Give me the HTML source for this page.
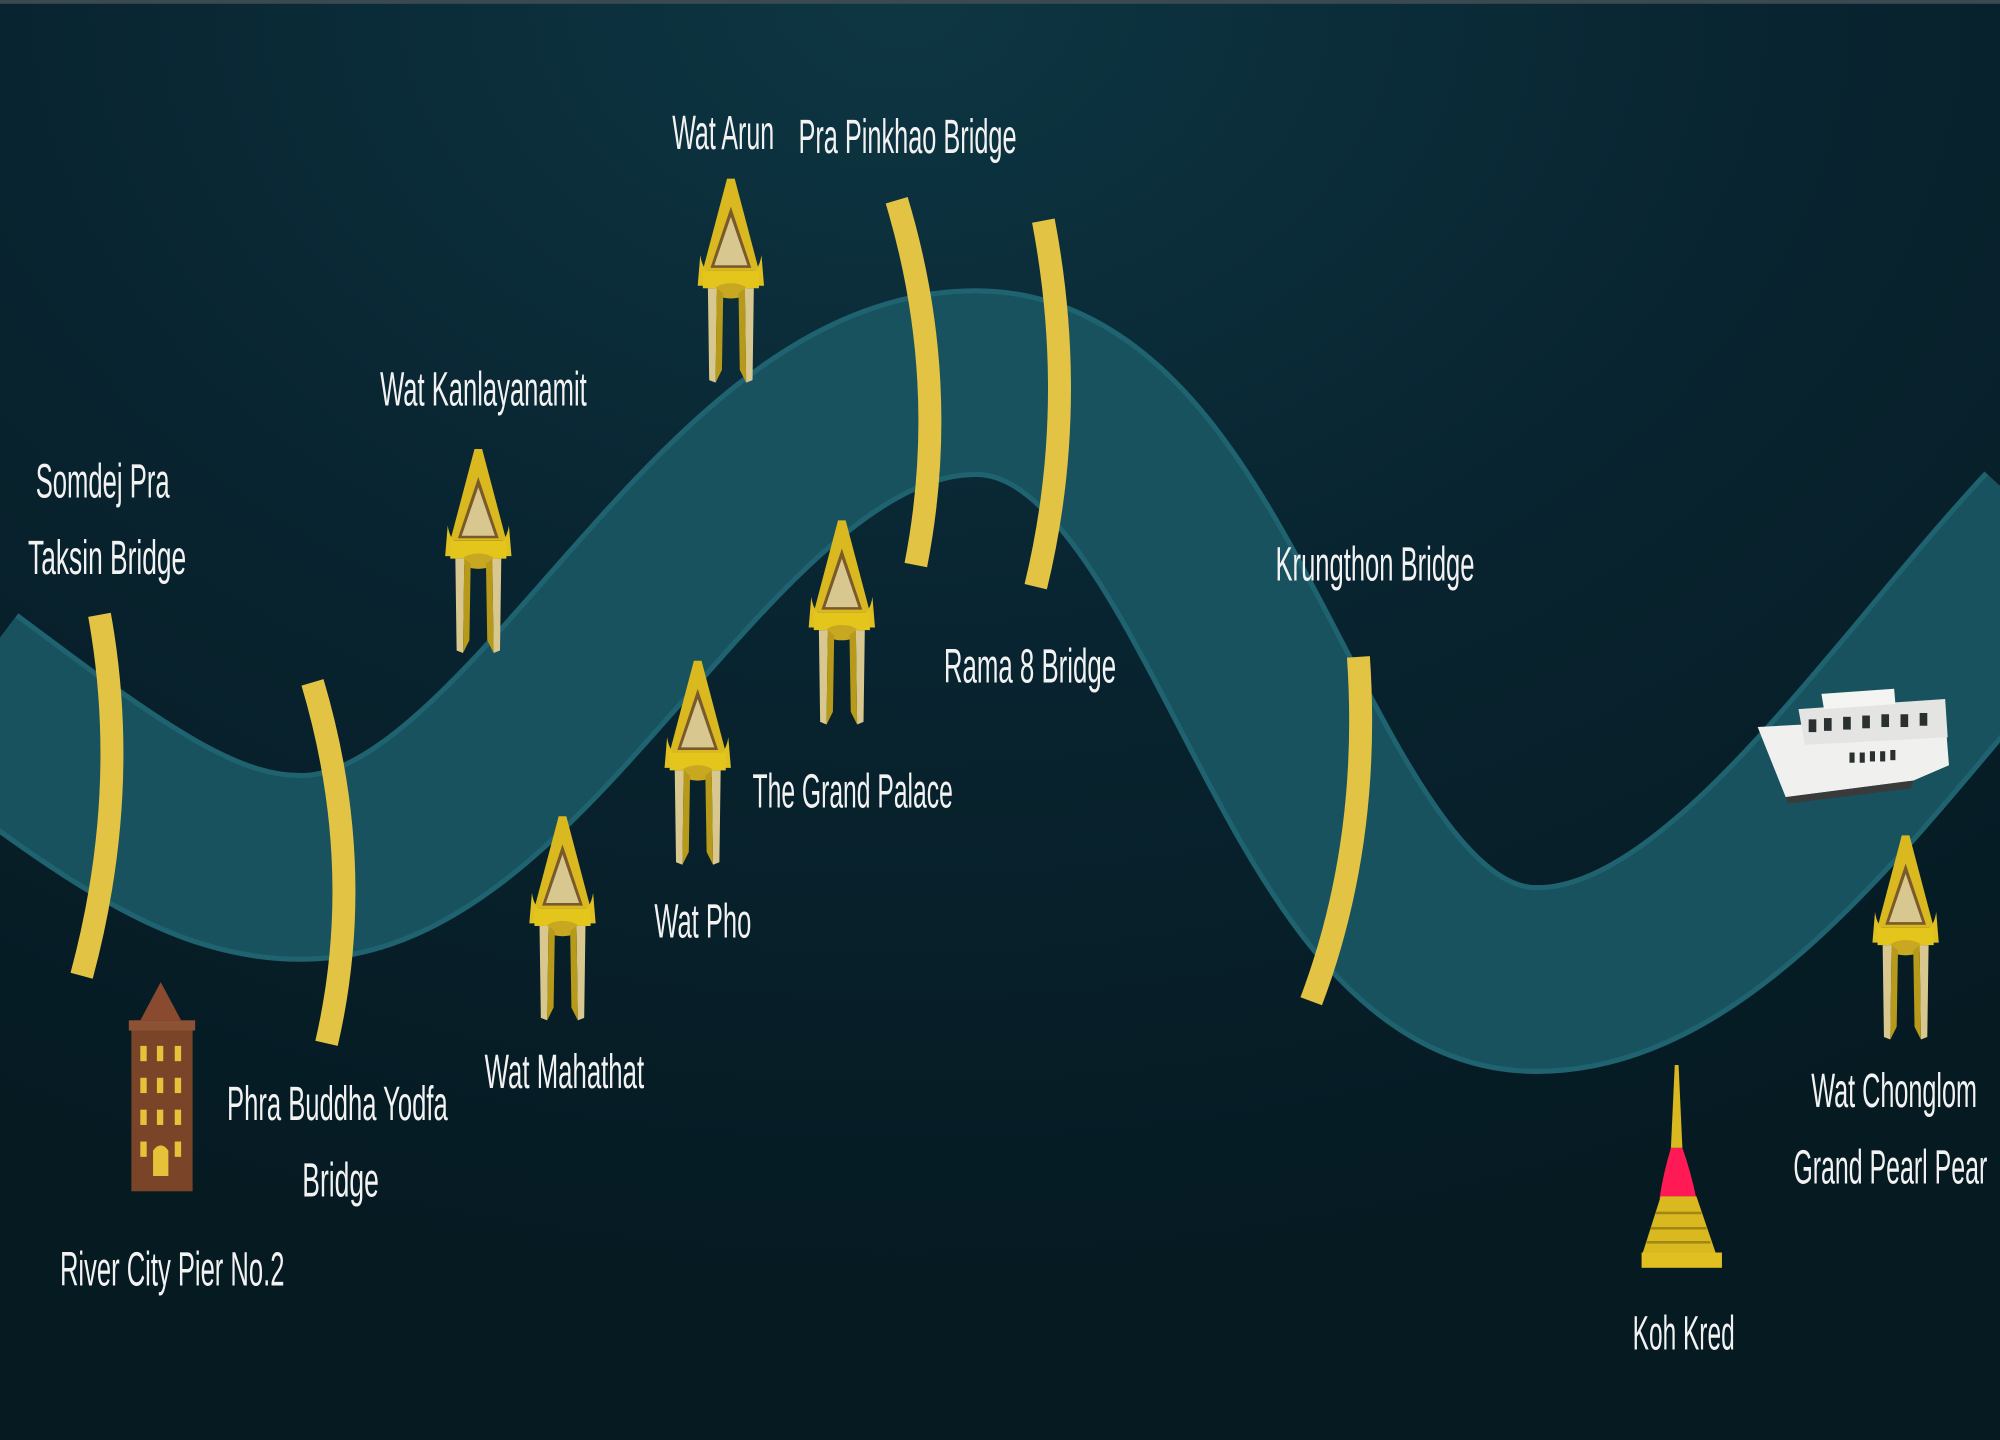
<!DOCTYPE html>
<html><head><meta charset="utf-8"><style>
html,body{margin:0;padding:0;background:#071d26;}
svg{display:block}
text{font-family:"Liberation Sans Narrow","Liberation Sans",sans-serif;fill:#f2f2f2;font-size:38px;}
</style></head><body>
<svg width="2000" height="1440" viewBox="0 0 1568 1129" preserveAspectRatio="none" xmlns="http://www.w3.org/2000/svg">
<defs>
<radialGradient id="bg" cx="0.45" cy="0.0" r="0.9">
<stop offset="0" stop-color="#0e3643"/><stop offset="0.5" stop-color="#082430"/><stop offset="1" stop-color="#061a22"/>
</radialGradient>
<g id="temple">
<path d="M-3 0 L3 0 L22 72 L-22 72 Z" fill="#d9b820"/>
<path d="M0 22 L16 70 L-16 70 Z" fill="#7a5a2a"/>
<path d="M0 30 L13 68 L-13 68 Z" fill="#d8c890"/>
<path d="M-24 60 Q-22 74 -12 76 L12 76 Q22 74 24 60 L26 84 L-26 84 Z" fill="#e0c020"/>
<rect x="-22" y="72" width="44" height="14" fill="#e3c51c"/>
<ellipse cx="0" cy="88" rx="13" ry="6" fill="#c9a821"/>
<path d="M-18 86 L-11 86 L-12 160 L-17 158 Z" fill="#d8c890"/>
<path d="M11 86 L18 86 L17 158 L12 160 Z" fill="#d8c890"/>
<path d="M-11 86 L-6 90 L-7 150 L-12 160 Z" fill="#b89a1a"/>
<path d="M6 90 L11 86 L12 160 L7 150 Z" fill="#b89a1a"/>
</g>
</defs>
<rect width="1568" height="1129" fill="url(#bg)"/>
<rect x="0" y="0" width="1568" height="3" fill="#3a4a50"/>
<!-- river -->
<path d="M-30 540 C 90 630, 160 682, 240 680 C 420 676, 560 300, 765 300 C 965 300, 1010 768, 1205 768 C 1350 768, 1480 560, 1610 420" fill="none" stroke="#1f6370" stroke-width="148"/>
<path d="M-30 540 C 90 630, 160 682, 240 680 C 420 676, 560 300, 765 300 C 965 300, 1010 768, 1205 768 C 1350 768, 1480 560, 1610 420" fill="none" stroke="#18525f" stroke-width="140"/>
<!-- bridges -->
<g fill="none" stroke="#e2c344" stroke-width="18" stroke-linecap="butt">
<path d="M78 482 Q103 620 64 765"/>
<path d="M245 535 Q288 680 256 818"/>
<path d="M703 157 Q746 300 718 443"/>
<path d="M818 173 Q846 320 812 460"/>
<path d="M1065 515 Q1075 660 1028 785"/>
</g>
<!-- temples -->
<use href="#temple" x="573" y="140"/>
<use href="#temple" x="375" y="352"/>
<use href="#temple" x="660" y="408"/>
<use href="#temple" x="547" y="518"/>
<use href="#temple" x="441" y="640"/>
<use href="#temple" x="1494" y="655"/>
<!-- hotel -->
<g>
<path d="M126 770 L142 800 L110 800 Z" fill="#8a4a30"/>
<rect x="103" y="800" width="48" height="134" fill="#7a4428"/>
<rect x="101" y="800" width="52" height="8" fill="#8d5233"/>
<g fill="#e6c23a">
<rect x="110" y="820" width="5" height="12"/><rect x="123" y="820" width="5" height="12"/><rect x="137" y="820" width="5" height="12"/>
<rect x="110" y="845" width="5" height="12"/><rect x="123" y="845" width="5" height="12"/><rect x="137" y="845" width="5" height="12"/>
<rect x="110" y="870" width="5" height="12"/><rect x="123" y="870" width="5" height="12"/><rect x="137" y="870" width="5" height="12"/>
<rect x="110" y="895" width="5" height="12"/><rect x="137" y="895" width="5" height="12"/>
<path d="M120 922 L120 902 Q126 894 132 902 L132 922 Z"/>
</g>
</g>
<!-- stupa -->
<g>
<path d="M1313 835 L1316 835 L1319 900 L1310 900 Z" fill="#d9b820"/>
<path d="M1310 900 L1319 900 Q1326 920 1330 940 L1301 940 Q1304 920 1310 900 Z" fill="#ff1a55"/>
<path d="M1302 938 L1330 938 L1345 982 L1288 982 Z" fill="#d9b820"/>
<g fill="#a08812"><rect x="1298" y="950" width="36" height="2"/><rect x="1294" y="962" width="44" height="2"/><rect x="1291" y="973" width="50" height="2"/></g>
<rect x="1287" y="982" width="63" height="12" fill="#e0c020"/>
</g>
<!-- boat -->
<g>
<path d="M1378 570 L1525 562 L1528 600 L1500 612 L1400 625 Z" fill="#f0f0ee"/>
<path d="M1410 556 L1525 548 L1527 578 L1415 584 Z" fill="#e4e4e2"/>
<path d="M1428 544 L1485 540 L1486 552 L1430 556 Z" fill="#f4f4f2"/>
<g fill="#2a3030">
<rect x="1418" y="564" width="6" height="10"/><rect x="1430" y="563" width="6" height="10"/><rect x="1445" y="562" width="6" height="10"/><rect x="1460" y="561" width="6" height="10"/><rect x="1475" y="560" width="6" height="10"/><rect x="1490" y="560" width="6" height="10"/><rect x="1505" y="559" width="6" height="10"/>
<rect x="1450" y="590" width="4" height="8"/><rect x="1458" y="590" width="4" height="8"/><rect x="1466" y="589" width="4" height="8"/><rect x="1474" y="589" width="4" height="8"/><rect x="1482" y="588" width="4" height="8"/>
</g>
<path d="M1400 625 L1500 612 L1498 618 L1402 630 Z" fill="#3a3a3a"/>
</g>
<!-- labels -->
<text x="527" y="117" textLength="80" lengthAdjust="spacingAndGlyphs">Wat Arun</text>
<text x="626" y="120" textLength="171" lengthAdjust="spacingAndGlyphs">Pra Pinkhao Bridge</text>
<text x="298" y="318" textLength="162" lengthAdjust="spacingAndGlyphs">Wat Kanlayanamit</text>
<text x="28" y="390" textLength="105" lengthAdjust="spacingAndGlyphs">Somdej Pra</text>
<text x="22" y="450" textLength="124" lengthAdjust="spacingAndGlyphs">Taksin Bridge</text>
<text x="1000" y="455" textLength="156" lengthAdjust="spacingAndGlyphs">Krungthon Bridge</text>
<text x="740" y="535" textLength="135" lengthAdjust="spacingAndGlyphs">Rama 8 Bridge</text>
<text x="590" y="633" textLength="157" lengthAdjust="spacingAndGlyphs">The Grand Palace</text>
<text x="513" y="735" textLength="76" lengthAdjust="spacingAndGlyphs">Wat Pho</text>
<text x="380" y="853" textLength="125" lengthAdjust="spacingAndGlyphs">Wat Mahathat</text>
<text x="178" y="878" textLength="173" lengthAdjust="spacingAndGlyphs">Phra Buddha Yodfa</text>
<text x="237" y="938" textLength="60" lengthAdjust="spacingAndGlyphs">Bridge</text>
<text x="47" y="1008" textLength="176" lengthAdjust="spacingAndGlyphs">River City Pier No.2</text>
<text x="1420" y="868" textLength="130" lengthAdjust="spacingAndGlyphs">Wat Chonglom</text>
<text x="1406" y="928" textLength="152" lengthAdjust="spacingAndGlyphs">Grand Pearl Pear</text>
<text x="1280" y="1058" textLength="80" lengthAdjust="spacingAndGlyphs">Koh Kred</text>
</svg>
</body></html>
